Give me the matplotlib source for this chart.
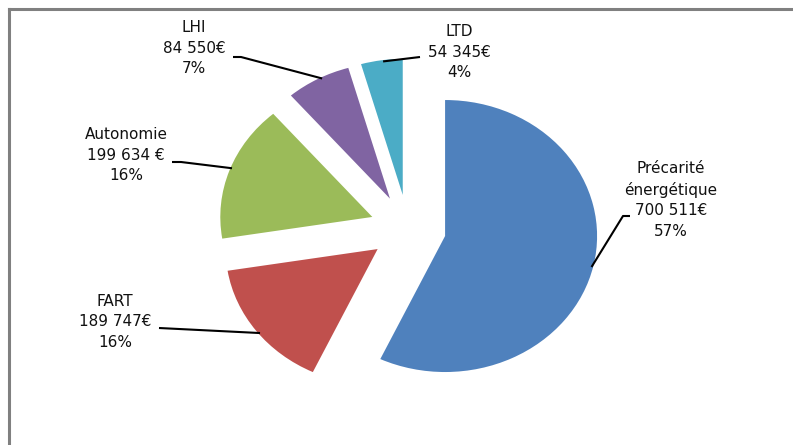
import numpy as np
import matplotlib.pyplot as plt
from matplotlib.lines import Line2D

# donnees du graphique
labels = ['Précarité\nénergétique', 'FART', 'Autonomie', 'LHI', 'LTD']
montants = [700511, 189747, 199634, 84550, 54345]
montant_txt = ['700 511€', '189 747€', '199 634 €', '84 550€', '54 345€']
pourcent_txt = ['57%', '16%', '16%', '7%', '4%']
couleurs = ['#4F81BD', '#C0504D', '#9BBB59', '#8064A2', '#4BACC6']

W, H = 793, 445
CX, CY = 408, 228.6      # centre du camembert (pixels)
RX, RY = 152, 136        # rayon horizontal / vertical (pixels)

def px(x, y):
    # pixels -> coordonnees donnees
    return (x - CX) / RX, (CY - y) / RY

# position des etiquettes (centre du bloc, pixels) et depart des traits
pos_label = [(671, 200), (115, 322), (126, 155), (194, 48), (459, 52)]
depart_trait = [[(630, 216), (623, 216)],
                [(159, 328)],
                [(172, 162), (181, 162)],
                [(233, 57), (241, 57)],
                [(420, 57)]]
# angle (degres) sur l'arc ou arrive le trait
angle_trait = [-13.3, 218.6, 158.8, 116.8, 97.5]

fig = plt.figure(figsize=(W / 100, H / 100), dpi=100)
ax = fig.add_axes([0, 0, 1, 1])

wedges, _ = ax.pie(montants, colors=couleurs, startangle=90, counterclock=False,
                   explode=[0.25] * len(montants), radius=1,
                   wedgeprops=dict(linewidth=0))
ax.set_aspect('auto')
ax.set_xlim(px(0, 0)[0], px(W, 0)[0])
ax.set_ylim(px(0, H)[1], px(0, 0)[1])
ax.axis('off')

for i, w in enumerate(wedges):
    cx, cy = w.center
    a = np.deg2rad(angle_trait[i])
    fin = (cx + 0.99 * np.cos(a), cy + 0.99 * np.sin(a))
    pts = [px(*p) for p in depart_trait[i]] + [fin]
    xs, ys = zip(*pts)
    ax.plot(xs, ys, color='black', lw=1.5, solid_capstyle='butt')

    txt = labels[i] + '\n' + montant_txt[i] + '\n' + pourcent_txt[i]
    tx, ty = px(*pos_label[i])
    ax.text(tx, ty, txt, ha='center', va='center', fontsize=11,
            family='DejaVu Sans', color='#111111', linespacing=1.45)

# cadre gris (haut et gauche)
fig.add_artist(Line2D([9 / W, 9 / W], [0, 1 - 9 / H], color='#808080', lw=2.2,
                      transform=fig.transFigure))
fig.add_artist(Line2D([9 / W, 1], [1 - 9 / H, 1 - 9 / H], color='#808080', lw=2.2,
                      transform=fig.transFigure))

plt.savefig('out.png', dpi=100)
